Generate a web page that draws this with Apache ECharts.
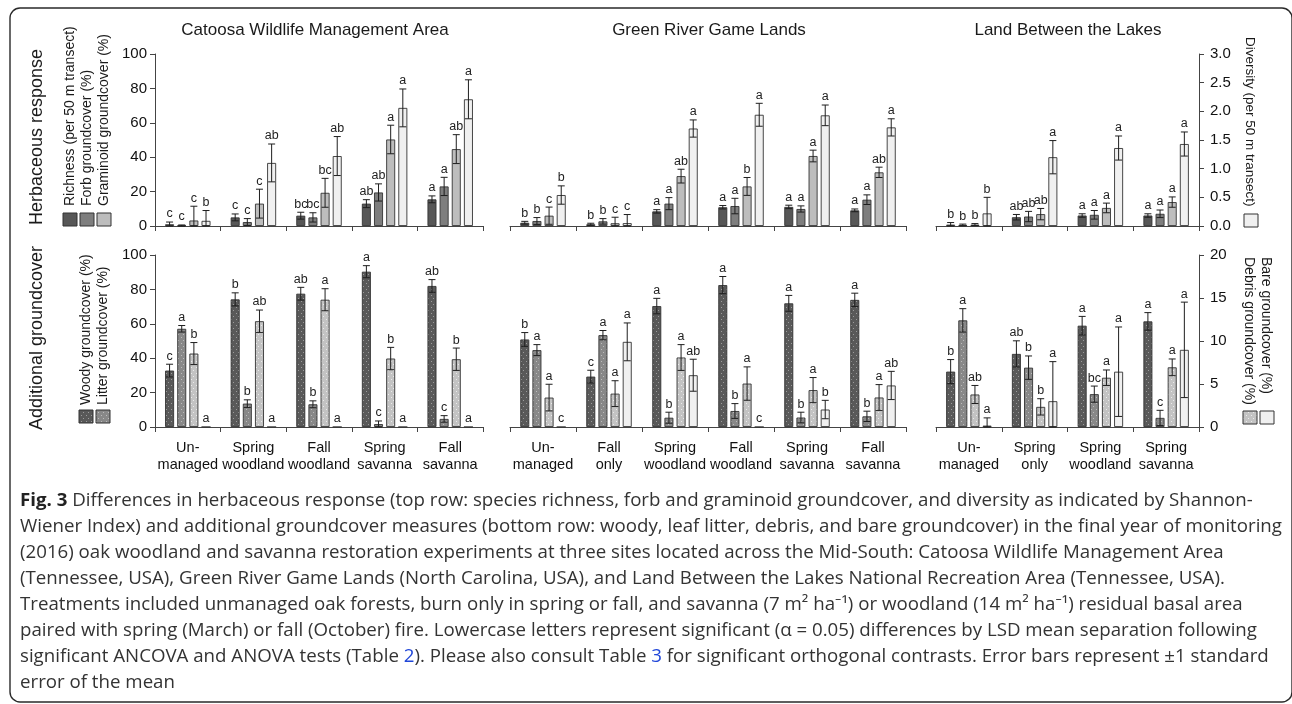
<!DOCTYPE html>
<html>
<head>
<meta charset="utf-8">
<script src="https://cdn.jsdelivr.net/npm/echarts@6/dist/echarts.min.js"></script>
<style>
  html, body { margin: 0; padding: 0; background: #ffffff; }
  #chart { width: 1292px; height: 704px; }
</style>
</head>
<body>
<div id="chart"></div>
<script>
// ---------- Treatments (x categories) ----------
const catoosaTreatments = ['Un-\nmanaged', 'Spring\nwoodland', 'Fall\nwoodland', 'Spring\nsavanna', 'Fall\nsavanna'];
const greenRiverTreatments = ['Un-\nmanaged', 'Fall\nonly', 'Spring\nwoodland', 'Fall\nwoodland', 'Spring\nsavanna', 'Fall\nsavanna'];
const lblTreatments = ['Un-\nmanaged', 'Spring\nonly', 'Spring\nwoodland', 'Spring\nsavanna'];

const siteTitles = ['Catoosa Wildlife Management Area', 'Green River Game Lands', 'Land Between the Lakes'];

// ---------- Axis ticks ----------
const percentTicks = [0, 20, 40, 60, 80, 100];
const diversityTicks = [0, 0.5, 1, 1.5, 2, 2.5, 3];
const bareDebrisTicks = [0, 5, 10, 15, 20];

// ---------- Herbaceous response: Catoosa ----------
const catoosaRichness = [1.0, 5.0, 6.0, 13.0, 15.5];
const catoosaRichnessSE = [1.3, 2.0, 2.0, 2.3, 2.0];
const catoosaRichnessSig = ['c', 'c', 'bc', 'ab', 'a'];
const catoosaForb = [0.3, 2.3, 5.0, 19.5, 23.0];
const catoosaForbSE = [0.3, 2.0, 2.7, 5.0, 5.3];
const catoosaForbSig = ['c', 'c', 'bc', 'ab', 'a'];
const catoosaGraminoid = [3.2, 13.0, 19.3, 50.3, 44.7];
const catoosaGraminoidSE = [8.3, 8.4, 8.4, 8.3, 8.4];
const catoosaGraminoidSig = ['c', 'c', 'bc', 'a', 'ab'];
const catoosaDiversity = [0.09, 1.10, 1.22, 2.06, 2.21];
const catoosaDiversitySE = [0.18, 0.33, 0.34, 0.33, 0.34];
const catoosaDiversitySig = ['b', 'ab', 'ab', 'a', 'a'];

// ---------- Herbaceous response: Green River ----------
const greenRiverRichness = [1.9, 1.0, 8.5, 10.9, 11.1, 9.1];
const greenRiverRichnessSE = [0.8, 0.6, 1.0, 1.0, 1.0, 0.8];
const greenRiverRichnessSig = ['b', 'b', 'a', 'a', 'a', 'a'];
const greenRiverForb = [2.9, 2.7, 13.0, 11.6, 9.9, 15.3];
const greenRiverForbSE = [2.0, 1.6, 3.5, 4.5, 1.8, 2.8];
const greenRiverForbSig = ['b', 'b', 'a', 'a', 'a', 'a'];
const greenRiverGraminoid = [6.0, 1.6, 29.0, 23.0, 40.7, 31.2];
const greenRiverGraminoidSE = [5.0, 3.5, 4.0, 5.2, 3.4, 3.0];
const greenRiverGraminoidSig = ['c', 'c', 'ab', 'b', 'a', 'ab'];
const greenRiverDiversity = [0.54, 0.05, 1.70, 1.94, 1.93, 1.72];
const greenRiverDiversitySE = [0.16, 0.15, 0.15, 0.20, 0.18, 0.15];
const greenRiverDiversitySig = ['b', 'c', 'a', 'a', 'a', 'a'];

// ---------- Herbaceous response: Land Between the Lakes ----------
const lblRichness = [0.8, 5.1, 6.1, 6.1];
const lblRichnessSE = [1.2, 1.6, 1.0, 1.0];
const lblRichnessSig = ['b', 'ab', 'a', 'a'];
const lblForb = [0.6, 5.5, 6.5, 7.1];
const lblForbSE = [0.5, 3.0, 2.5, 2.2];
const lblForbSig = ['b', 'ab', 'a', 'a'];
const lblGraminoid = [0.8, 6.9, 10.5, 13.9];
const lblGraminoidSE = [0.6, 3.3, 2.8, 3.0];
const lblGraminoidSig = ['b', 'ab', 'a', 'a'];
const lblDiversity = [0.22, 1.20, 1.36, 1.43];
const lblDiversitySE = [0.28, 0.29, 0.21, 0.21];
const lblDiversitySig = ['b', 'a', 'a', 'a'];

// ---------- Additional groundcover: Catoosa ----------
const catoosaWoody = [32.8, 74.2, 77.5, 90.3, 82.0];
const catoosaWoodySE = [3.7, 3.8, 3.7, 3.5, 3.7];
const catoosaWoodySig = ['c', 'b', 'ab', 'a', 'ab'];
const catoosaLitter = [57.1, 13.6, 13.2, 1.7, 4.7];
const catoosaLitterSE = [1.9, 2.2, 2.0, 1.8, 1.9];
const catoosaLitterSig = ['a', 'b', 'b', 'c', 'c'];
const catoosaBare = [8.54, 12.3, 14.8, 7.96, 7.88];
const catoosaBareSE = [1.28, 1.3, 1.28, 1.3, 1.3];
const catoosaBareSig = ['b', 'ab', 'a', 'b', 'b'];
const catoosaDebris = [0, 0, 0, 0, 0];
const catoosaDebrisSE = [0, 0, 0, 0, 0];
const catoosaDebrisSig = ['a', 'a', 'a', 'a', 'a'];

// ---------- Additional groundcover: Green River ----------
const greenRiverWoody = [50.9, 29.3, 70.3, 82.5, 71.9, 73.9];
const greenRiverWoodySE = [4.0, 3.7, 4.5, 5.0, 4.6, 3.9];
const greenRiverWoodySig = ['b', 'c', 'a', 'a', 'a', 'a'];
const greenRiverLitter = [44.7, 53.4, 5.4, 9.3, 5.5, 6.2];
const greenRiverLitterSE = [3.2, 2.7, 3.2, 4.3, 3.1, 3.0];
const greenRiverLitterSig = ['a', 'a', 'b', 'b', 'b', 'b'];
const greenRiverBare = [3.42, 3.88, 8.08, 5.05, 4.29, 3.43];
const greenRiverBareSE = [1.55, 1.5, 1.5, 1.94, 1.46, 1.5];
const greenRiverBareSig = ['a', 'a', 'a', 'a', 'a', 'a'];
const greenRiverDebris = [0, 9.9, 6.02, 0, 2.03, 4.83];
const greenRiverDebrisSE = [0, 2.2, 1.86, 0, 1.07, 1.64];
const greenRiverDebrisSig = ['c', 'a', 'ab', 'c', 'b', 'ab'];

// ---------- Additional groundcover: Land Between the Lakes ----------
const lblWoody = [32.2, 42.5, 58.9, 61.4];
const lblWoodySE = [7.0, 7.6, 5.4, 5.1];
const lblWoodySig = ['b', 'ab', 'a', 'a'];
const lblLitter = [62.0, 34.5, 19.1, 5.3];
const lblLitterSE = [6.8, 6.8, 4.7, 4.4];
const lblLitterSig = ['a', 'b', 'bc', 'c'];
const lblBare = [3.78, 2.34, 5.73, 6.94];
const lblBareSE = [1.05, 0.95, 0.9, 0.97];
const lblBareSig = ['ab', 'b', 'a', 'a'];
const lblDebris = [0.16, 3.0, 6.43, 8.97];
const lblDebrisSE = [0.9, 4.6, 5.2, 5.55];
const lblDebrisSig = ['a', 'a', 'a', 'a'];

// ---------- Caption ----------
const captionLines = [
  '{b|Fig. 3} Differences in herbaceous response (top row: species richness, forb and graminoid groundcover, and diversity as indicated by Shannon-',
  'Wiener Index) and additional groundcover measures (bottom row: woody, leaf litter, debris, and bare groundcover) in the final year of monitoring',
  '(2016) oak woodland and savanna restoration experiments at three sites located across the Mid-South: Catoosa Wildlife Management Area',
  '(Tennessee, USA), Green River Game Lands (North Carolina, USA), and Land Between the Lakes National Recreation Area (Tennessee, USA).',
  'Treatments included unmanaged oak forests, burn only in spring or fall, and savanna (7 m\u00B2 ha\u207B\u00B9) or woodland (14 m\u00B2 ha\u207B\u00B9) residual basal area',
  'paired with spring (March) or fall (October) fire. Lowercase letters represent significant (\u03B1 = 0.05) differences by LSD mean separation following',
  'significant ANCOVA and ANOVA tests (Table {l|2}). Please also consult Table {l|3} for significant orthogonal contrasts. Error bars represent \u00B11 standard',
  'error of the mean'
];

// ---------- Layout and styling ----------
const FONT = '"Liberation Sans", Arial, Helvetica, sans-serif';
const CAPTION_FONT = '"Open Sans", "Noto Sans", sans-serif';
const CAPTION_SIZE = 18;
const CAPTION_STRETCH = 1.038;
const BAR_W = 9;
const BAR_GAP = 0.35;
const BAR_STEP = BAR_W * (1 + BAR_GAP);
const AXIS_COLOR = '#444';
const EDGE = '#333';

const panelCols = [
  { left: 155, width: 328 },
  { left: 510, width: 396 },
  { left: 936, width: 263 }
];
const panelRows = [
  { top: 54, height: 172 },
  { top: 255, height: 172 }
];

function dotPattern(base, dot) {
  const c = document.createElement('canvas');
  c.width = 5; c.height = 6;
  const ctx = c.getContext('2d');
  ctx.fillStyle = base; ctx.fillRect(0, 0, 5, 6);
  ctx.fillStyle = dot;
  ctx.fillRect(1, 1, 1, 1);
  ctx.fillRect(3, 4, 1, 1);
  return { image: c, repeat: 'repeat' };
}

const herbFills = ['#575757', '#7e7e7e', '#bdbdbd', '#f0f0f0'];
const groundFills = [
  dotPattern('#595959', '#9c9c9c'),
  dotPattern('#888888', '#bcbcbc'),
  dotPattern('#c3c3c3', '#ebebeb'),
  '#f0f0f0'
];

const sites = [
  {
    cats: catoosaTreatments,
    herb: [[catoosaRichness, catoosaRichnessSE, catoosaRichnessSig], [catoosaForb, catoosaForbSE, catoosaForbSig],
           [catoosaGraminoid, catoosaGraminoidSE, catoosaGraminoidSig], [catoosaDiversity, catoosaDiversitySE, catoosaDiversitySig]],
    ground: [[catoosaWoody, catoosaWoodySE, catoosaWoodySig], [catoosaLitter, catoosaLitterSE, catoosaLitterSig],
             [catoosaBare, catoosaBareSE, catoosaBareSig], [catoosaDebris, catoosaDebrisSE, catoosaDebrisSig]]
  },
  {
    cats: greenRiverTreatments,
    herb: [[greenRiverRichness, greenRiverRichnessSE, greenRiverRichnessSig], [greenRiverForb, greenRiverForbSE, greenRiverForbSig],
           [greenRiverGraminoid, greenRiverGraminoidSE, greenRiverGraminoidSig], [greenRiverDiversity, greenRiverDiversitySE, greenRiverDiversitySig]],
    ground: [[greenRiverWoody, greenRiverWoodySE, greenRiverWoodySig], [greenRiverLitter, greenRiverLitterSE, greenRiverLitterSig],
             [greenRiverBare, greenRiverBareSE, greenRiverBareSig], [greenRiverDebris, greenRiverDebrisSE, greenRiverDebrisSig]]
  },
  {
    cats: lblTreatments,
    herb: [[lblRichness, lblRichnessSE, lblRichnessSig], [lblForb, lblForbSE, lblForbSig],
           [lblGraminoid, lblGraminoidSE, lblGraminoidSig], [lblDiversity, lblDiversitySE, lblDiversitySig]],
    ground: [[lblWoody, lblWoodySE, lblWoodySig], [lblLitter, lblLitterSE, lblLitterSig],
             [lblBare, lblBareSE, lblBareSig], [lblDebris, lblDebrisSE, lblDebrisSig]]
  }
];

// Which measures in each row are read against the right-hand scale
const rightScaleSlots = [[3], [2, 3]];
const rightTicks = [diversityTicks, bareDebrisTicks];

const grids = [], xAxes = [], yAxes = [], series = [];

function errorSeries(gridIdx, yIdx, slot, values, se, sig) {
  return {
    type: 'custom',
    xAxisIndex: gridIdx,
    yAxisIndex: yIdx,
    z: 5,
    silent: true,
    clip: false,
    data: values.map((v, k) => [k, v, se[k]]),
    renderItem(params, api) {
      const k = api.value(0), v = api.value(1), e = api.value(2);
      const hi = api.coord([k, v + e]);
      const lo = api.coord([k, Math.max(0, v - e)]);
      const x = hi[0] + (slot - 1.5) * BAR_STEP;
      const ls = { stroke: '#1e1e1e', lineWidth: 1 };
      const children = [];
      if (e > 0) {
        children.push({ type: 'line', shape: { x1: x, y1: hi[1], x2: x, y2: lo[1] }, style: ls });
        children.push({ type: 'line', shape: { x1: x - 3.5, y1: hi[1], x2: x + 3.5, y2: hi[1] }, style: ls });
        children.push({ type: 'line', shape: { x1: x - 3.5, y1: lo[1], x2: x + 3.5, y2: lo[1] }, style: ls });
      }
      children.push({
        type: 'text', x: x, y: hi[1] - 1.5,
        style: { text: sig[params.dataIndex], align: 'center', verticalAlign: 'bottom',
                 textAlign: 'center', textVerticalAlign: 'bottom',
                 fontSize: 12.5, fontFamily: FONT, fill: '#222' }
      });
      return { type: 'group', children };
    }
  };
}

[0, 1].forEach(r => {
  sites.forEach((site, i) => {
    const g = r * 3 + i;
    grids.push({ left: panelCols[i].left, width: panelCols[i].width, top: panelRows[r].top, height: panelRows[r].height });
    xAxes.push({
      type: 'category', gridIndex: g, data: site.cats,
      axisLine: { show: true, onZero: false, lineStyle: { color: AXIS_COLOR, width: 1 } },
      axisTick: { show: true, length: 5, interval: 0, lineStyle: { color: AXIS_COLOR } },
      axisLabel: { show: r === 1, interval: 0, fontSize: 14.5, lineHeight: 17, color: '#111', fontFamily: FONT, margin: 12 },
      splitLine: { show: false }
    });
    yAxes.push({
      type: 'value', gridIndex: g, position: 'left', show: i === 0,
      min: percentTicks[0], max: percentTicks[percentTicks.length - 1], interval: percentTicks[1] - percentTicks[0],
      axisLine: { show: true, lineStyle: { color: AXIS_COLOR } },
      axisTick: { show: true, length: 5, lineStyle: { color: AXIS_COLOR } },
      axisLabel: { fontSize: 15, color: '#111', fontFamily: FONT, margin: 8 },
      splitLine: { show: false }
    });
    const rt = rightTicks[r];
    yAxes.push({
      type: 'value', gridIndex: g, position: 'right', show: i === 2,
      min: rt[0], max: rt[rt.length - 1], interval: rt[1] - rt[0],
      axisLine: { show: true, lineStyle: { color: AXIS_COLOR } },
      axisTick: { show: true, length: 5, lineStyle: { color: AXIS_COLOR } },
      axisLabel: { fontSize: 15, color: '#111', fontFamily: FONT, margin: 11,
                   formatter: r === 0 ? (v => v.toFixed(1)) : (v => String(v)) },
      splitLine: { show: false }
    });

    const measures = r === 0 ? site.herb : site.ground;
    const fills = r === 0 ? herbFills : groundFills;
    measures.forEach((m, slot) => {
      const yIdx = rightScaleSlots[r].includes(slot) ? 2 * g + 1 : 2 * g;
      series.push({
        type: 'bar', xAxisIndex: g, yAxisIndex: yIdx,
        data: m[0], barWidth: BAR_W, barGap: (BAR_GAP * 100) + '%',
        itemStyle: { color: fills[slot], borderColor: EDGE, borderWidth: 0.9 },
        silent: true
      });
    });
    measures.forEach((m, slot) => {
      const yIdx = rightScaleSlots[r].includes(slot) ? 2 * g + 1 : 2 * g;
      series.push(errorSeries(g, yIdx, slot, m[0], m[1], m[2]));
    });
  });
});

// ---------- Decorations: frame, titles, legends, caption ----------
const graphics = [];
graphics.push({
  type: 'rect', shape: { x: 10, y: 8, width: 1282, height: 694, r: 10 },
  style: { fill: 'none', stroke: '#2a2a2a', lineWidth: 1.4 }, silent: true
});

function label(x, y, text, size, opts = {}) {
  return Object.assign({
    type: 'text', x, y, silent: true,
    style: Object.assign({
      text, fontSize: size, fontFamily: FONT, fill: '#1a1a1a',
      align: 'center', verticalAlign: 'middle', textAlign: 'center', textVerticalAlign: 'middle'
    }, opts.style || {})
  }, opts.el || {});
}

const titleCenters = [315, 709, 1068];
siteTitles.forEach((t, i) => graphics.push(label(titleCenters[i], 30, t, 17)));

graphics.push(label(37, 137, 'Herbaceous response', 18, { el: { rotation: Math.PI / 2 } }));
graphics.push(label(37, 338, 'Additional groundcover', 18, { el: { rotation: Math.PI / 2 } }));

function upText(x, y, text) {
  return label(x, y, text, 14, { el: { rotation: Math.PI / 2 }, style: { align: 'left', textAlign: 'left' } });
}
function downText(x, y, text, size) {
  return label(x, y, text, size || 14, { el: { rotation: -Math.PI / 2 }, style: { align: 'left', textAlign: 'left' } });
}
function box(x, y, fill) {
  return { type: 'rect', shape: { x, y, width: 14, height: 13 }, style: { fill, stroke: EDGE, lineWidth: 1 }, silent: true };
}

// Herbaceous legend (left)
graphics.push(upText(70, 206, 'Richness (per 50 m transect)'));
graphics.push(upText(87, 206, 'Forb groundcover (%)'));
graphics.push(upText(104, 206, 'Graminoid groundcover (%)'));
graphics.push(box(63, 213, herbFills[0]));
graphics.push(box(80, 213, herbFills[1]));
graphics.push(box(97, 213, herbFills[2]));

// Groundcover legend (left)
graphics.push(upText(86, 405, 'Woody groundcover (%)'));
graphics.push(upText(103, 405, 'Litter groundcover (%)'));
graphics.push(box(79, 410, groundFills[0]));
graphics.push(box(96, 410, groundFills[1]));

// Diversity legend (right)
graphics.push(downText(1250, 37, 'Diversity (per 50 m transect)', 13.5));
graphics.push(box(1244, 214, herbFills[3]));

// Bare / debris legend (right)
graphics.push(downText(1266, 257, 'Bare groundcover (%)'));
graphics.push(downText(1249, 257, 'Debris groundcover (%)'));
graphics.push(box(1243, 411, groundFills[2]));
graphics.push(box(1260, 411, groundFills[3]));

// Caption
captionLines.forEach((line, k) => {
  graphics.push({
    type: 'text', x: 20, y: 501 + k * 26, scaleX: CAPTION_STRETCH, silent: true,
    style: {
      text: line, fontSize: CAPTION_SIZE, fontFamily: CAPTION_FONT, fill: '#333',
      align: 'left', verticalAlign: 'middle', textAlign: 'left', textVerticalAlign: 'middle',
      rich: {
        b: { fontWeight: 'bold', fontSize: CAPTION_SIZE, fontFamily: CAPTION_FONT, fill: '#222' },
        l: { fontSize: CAPTION_SIZE, fontFamily: CAPTION_FONT, fill: '#2046d8' }
      }
    }
  });
});

const chart = echarts.init(document.getElementById('chart'), null, { renderer: 'canvas' });
chart.setOption({
  animation: false,
  backgroundColor: '#ffffff',
  textStyle: { fontFamily: FONT },
  grid: grids,
  xAxis: xAxes,
  yAxis: yAxes,
  series: series,
  graphic: graphics
});
</script>
</body>
</html>
